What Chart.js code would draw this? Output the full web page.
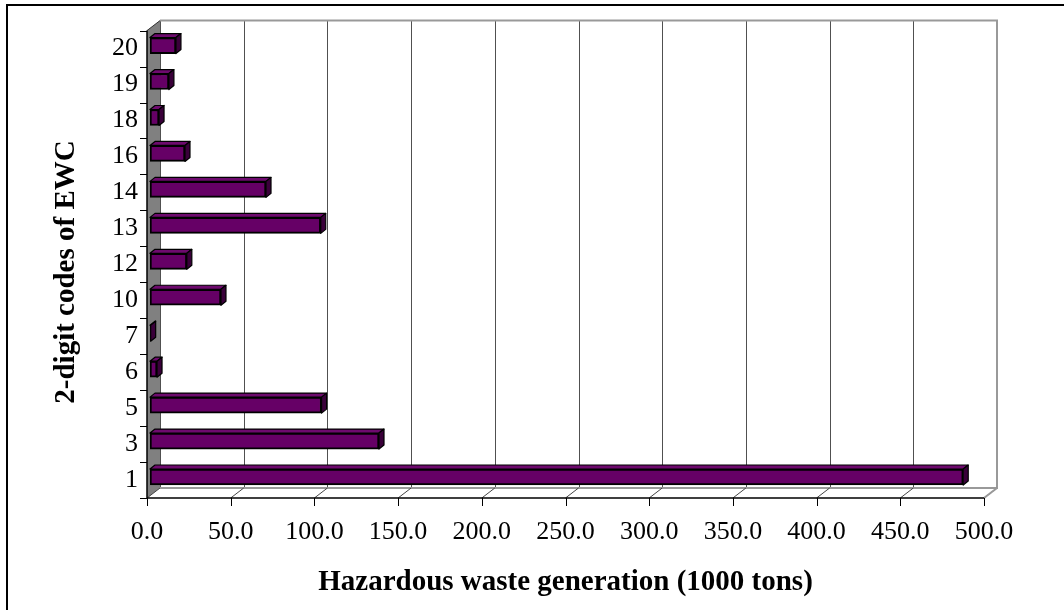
<!DOCTYPE html>
<html lang="en">
<head>
    <meta charset="UTF-8">
    <title>Hazardous waste generation by EWC code</title>
    <style>
        body {
            margin: 0;
            background-color: #ffffff;
        }
        canvas {
            display: block;
        }
    </style>
</head>
<body>
    <canvas id="wasteChart" width="1064" height="610"></canvas>

    <script src="https://cdn.jsdelivr.net/npm/chart.js"></script>

    <script>
        // 2-digit EWC codes, top to bottom
        const ewcCodes = ['20', '19', '18', '16', '14', '13', '12', '10', '7', '6', '5', '3', '1'];
        // hazardous waste generated, 1000 tons
        const wasteTons = [15.5, 11.3, 5.4, 20.9, 69.3, 102.0, 22.0, 42.4, 0.4, 4.2, 102.5, 136.8, 485.8];
        const xTicks = [0, 50, 100, 150, 200, 250, 300, 350, 400, 450, 500];

        const FRONT = { dx: -3, dy: 3 };   // front plane offset from bar plane
        const BACK = { dx: 10, dy: -7 };   // back wall offset from bar plane
        const BAR_DEPTH = { dx: 5, dy: -4 };

        // draws the pseudo-3D walls, floor and front axes
        const frame3d = {
            id: 'frame3d',
            beforeDatasetsDraw(chart) {
                const ctx = chart.ctx;
                const xs = chart.scales.x, area = chart.chartArea;
                const fl = area.left + FRONT.dx, fr = area.right + FRONT.dx;
                const ft = area.top + FRONT.dy, fb = area.bottom + FRONT.dy;
                const bl = area.left + BACK.dx, br = area.right + BACK.dx;
                const bt = area.top + BACK.dy, bb = area.bottom + BACK.dy;

                ctx.save();
                // outer frame
                ctx.strokeStyle = '#000';
                ctx.lineWidth = 2;
                ctx.strokeRect(7, 5, 1200, 800);

                // left side wall
                ctx.fillStyle = '#808080';
                ctx.beginPath();
                ctx.moveTo(fl, ft); ctx.lineTo(bl, bt); ctx.lineTo(bl, bb); ctx.lineTo(fl, fb);
                ctx.closePath();
                ctx.fill();

                // back wall gridlines
                ctx.lineWidth = 1;
                ctx.strokeStyle = '#505050';
                xTicks.forEach(v => {
                    const px = Math.round(xs.getPixelForValue(v) + BACK.dx) + 0.5;
                    ctx.beginPath();
                    ctx.moveTo(px, bt); ctx.lineTo(px, bb);
                    ctx.stroke();
                });
                // back wall outline
                ctx.strokeStyle = '#999';
                ctx.lineWidth = 2;
                ctx.beginPath();
                ctx.moveTo(bl, bt); ctx.lineTo(br, bt); ctx.lineTo(br, bb); ctx.lineTo(bl, bb);
                ctx.stroke();

                // floor
                ctx.lineWidth = 1;
                ctx.strokeStyle = '#444';
                xTicks.forEach(v => {
                    const px = xs.getPixelForValue(v);
                    ctx.beginPath();
                    ctx.moveTo(px + FRONT.dx, fb); ctx.lineTo(px + BACK.dx, bb);
                    ctx.stroke();
                });
                ctx.strokeStyle = '#999';
                ctx.lineWidth = 2;
                ctx.beginPath();
                ctx.moveTo(fr, fb); ctx.lineTo(br, bb);
                ctx.stroke();

                // wall top edge
                ctx.strokeStyle = '#333';
                ctx.lineWidth = 1;
                ctx.beginPath();
                ctx.moveTo(fl, ft); ctx.lineTo(bl, bt);
                ctx.stroke();

                // front axes
                ctx.strokeStyle = '#000';
                ctx.lineWidth = 1.5;
                ctx.beginPath();
                ctx.moveTo(fl, ft); ctx.lineTo(fl, fb); ctx.lineTo(fr, fb);
                ctx.stroke();

                // x tick marks
                ctx.lineWidth = 1;
                xTicks.forEach(v => {
                    const px = Math.round(xs.getPixelForValue(v) + FRONT.dx) + 0.5;
                    ctx.beginPath();
                    ctx.moveTo(px, fb); ctx.lineTo(px, fb + 8);
                    ctx.stroke();
                });
                // y tick marks at category boundaries
                const slot = (area.bottom - area.top) / ewcCodes.length;
                for (let k = 0; k <= ewcCodes.length; k++) {
                    const py = Math.round(ft + k * slot) + 0.5;
                    ctx.beginPath();
                    ctx.moveTo(fl - 7, py); ctx.lineTo(fl, py);
                    ctx.stroke();
                }

                // axis titles
                ctx.fillStyle = '#000';
                ctx.font = 'bold 29px "Liberation Serif", "Times New Roman", serif';
                ctx.textAlign = 'center';
                ctx.textBaseline = 'middle';
                ctx.fillText('Hazardous waste generation (1000 tons)', (fl + fr) / 2, 583);
                ctx.translate(67, 272);
                ctx.rotate(-Math.PI / 2);
                ctx.fillText('2-digit codes of EWC', 0, 0);
                ctx.restore();
            },
            afterDatasetsDraw(chart) {
                const ctx = chart.ctx;
                const dx = BAR_DEPTH.dx, dy = BAR_DEPTH.dy;
                ctx.save();
                ctx.strokeStyle = '#000';
                ctx.lineWidth = 1.2;
                ctx.lineJoin = 'round';
                chart.getDatasetMeta(0).data.forEach(bar => {
                    const p = bar.getProps(['x', 'y', 'base', 'height'], true);
                    const top = p.y - p.height / 2, bottom = p.y + p.height / 2;
                    // top face
                    ctx.fillStyle = '#6e0a6e';
                    ctx.beginPath();
                    ctx.moveTo(p.base, top); ctx.lineTo(p.base + dx, top + dy);
                    ctx.lineTo(p.x + dx, top + dy); ctx.lineTo(p.x, top);
                    ctx.closePath();
                    ctx.fill(); ctx.stroke();
                    // side face
                    ctx.fillStyle = '#3a003a';
                    ctx.beginPath();
                    ctx.moveTo(p.x, top); ctx.lineTo(p.x + dx, top + dy);
                    ctx.lineTo(p.x + dx, bottom + dy); ctx.lineTo(p.x, bottom);
                    ctx.closePath();
                    ctx.fill(); ctx.stroke();
                });
                ctx.restore();
            }
        };

        const tickFont = { family: '"Liberation Serif", "Times New Roman", serif', size: 26 };

        new Chart(document.getElementById('wasteChart').getContext('2d'), {
            type: 'bar',
            data: {
                labels: ewcCodes,
                datasets: [{
                    data: wasteTons,
                    backgroundColor: '#660066',
                    borderColor: '#000000',
                    borderWidth: 2,
                    borderSkipped: false,
                    barThickness: 16
                }]
            },
            options: {
                indexAxis: 'y',
                responsive: false,
                animation: false,
                devicePixelRatio: 1,
                layout: {
                    padding: { top: 26, right: 77, left: 0, bottom: 0 }
                },
                plugins: {
                    legend: { display: false },
                    tooltip: { enabled: false }
                },
                scales: {
                    x: {
                        min: 0,
                        max: 500,
                        afterFit(scale) { scale.height = 115; },
                        grid: { display: false, drawTicks: false },
                        border: { display: false },
                        ticks: {
                            stepSize: 50,
                            color: '#000',
                            font: tickFont,
                            padding: 22,
                            labelOffset: FRONT.dx,
                            maxRotation: 0,
                            autoSkip: false,
                            callback: v => v.toFixed(1)
                        }
                    },
                    y: {
                        afterFit(scale) { scale.width = 150; },
                        grid: { display: false, drawTicks: false },
                        border: { display: false },
                        ticks: {
                            color: '#000',
                            font: tickFont,
                            padding: 12,
                            labelOffset: FRONT.dy,
                            autoSkip: false
                        }
                    }
                }
            },
            plugins: [frame3d]
        });
    </script>
</body>
</html>
